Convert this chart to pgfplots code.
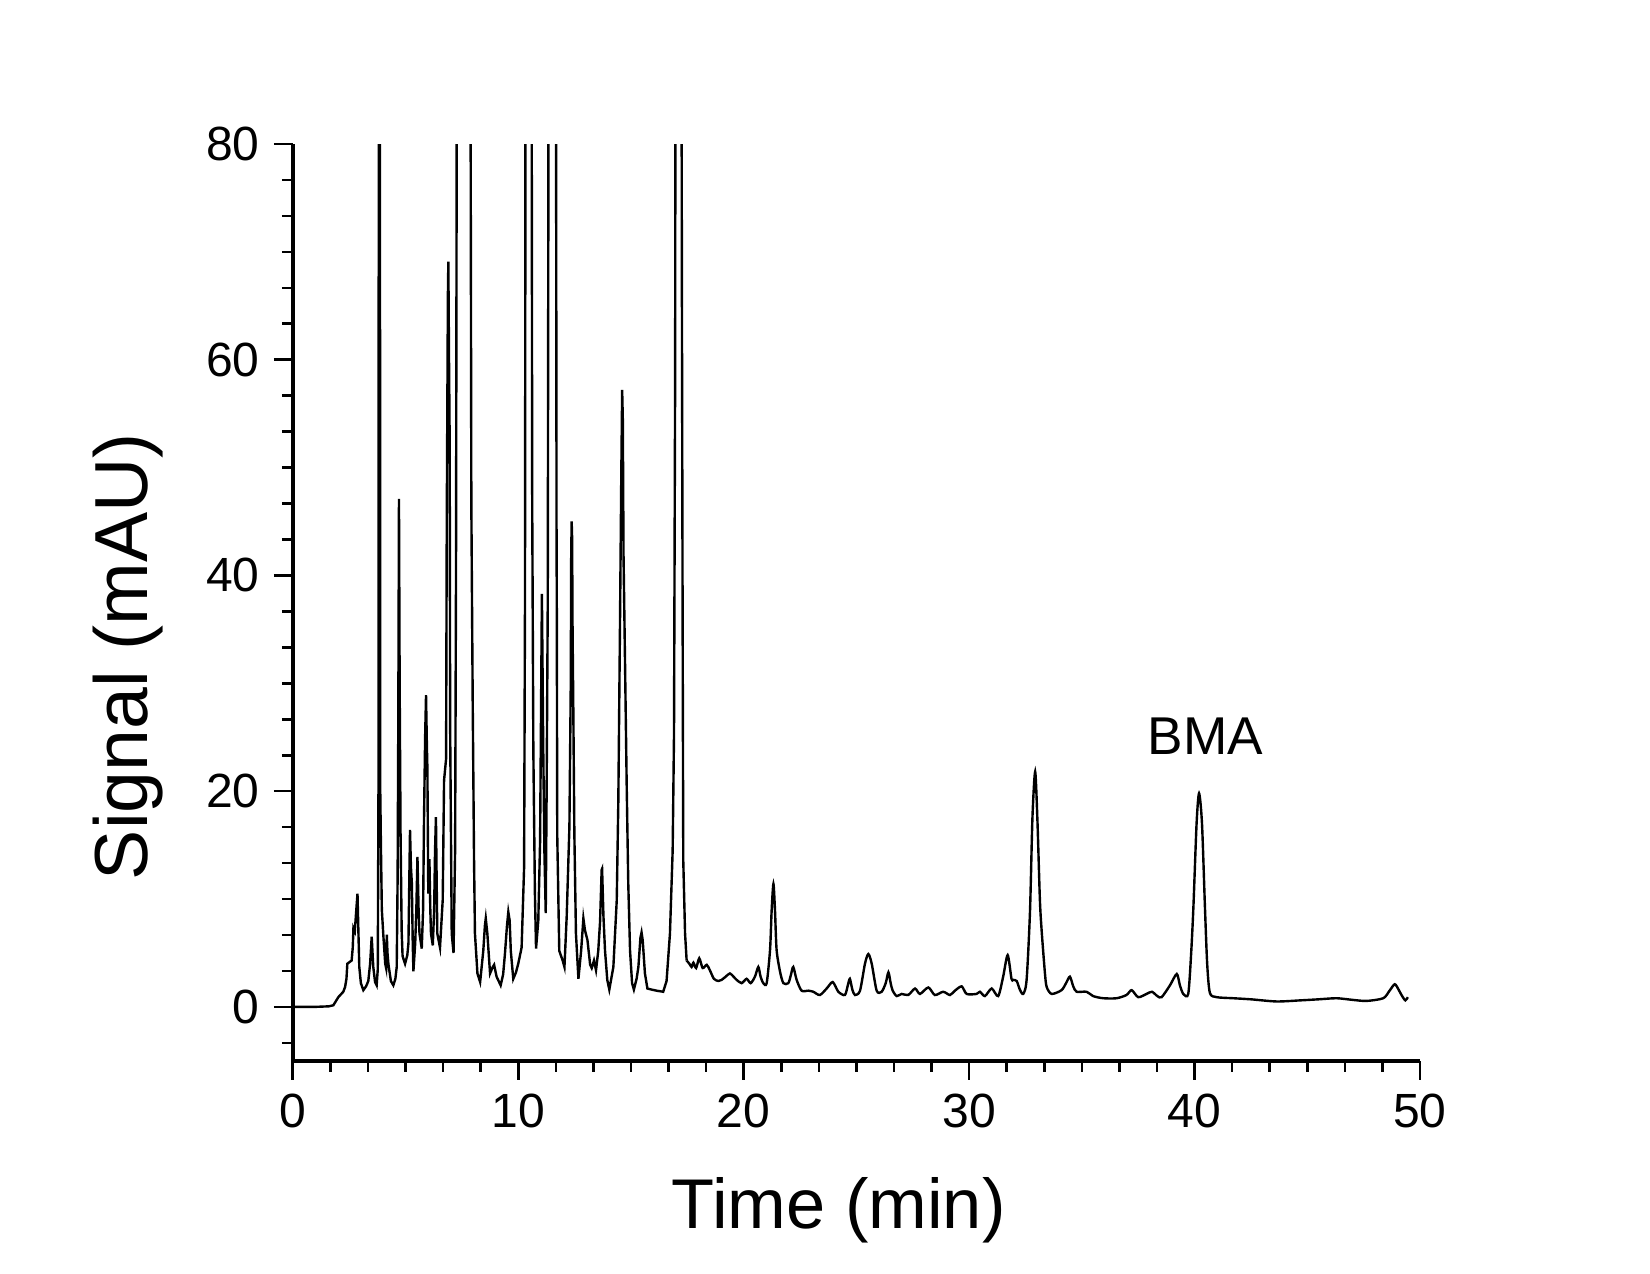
\documentclass[border=0pt]{standalone}
\usepackage{fontspec}
\setmainfont{Liberation Sans}
\usepackage{pgfplots}
\pgfplotsset{compat=1.18}
\begin{document}
\begin{tikzpicture}
\path[use as bounding box] (-73.2pt,-53.3pt) rectangle (339.3pt,265.2pt);
\begin{axis}[
  at={(0pt,0pt)}, anchor=south west,
  scale only axis, width=281.8pt, height=229.2pt,
  xmin=0, xmax=50, ymin=-5, ymax=80,
  axis x line*=bottom, axis y line*=left,
  axis line style={-, line width=1pt, black},
  xtick={0,10,20,30,40,50}, ytick={0,20,40,60,80},
  minor xtick={1.6667,3.3333,5,6.6667,8.3333,11.6667,13.3333,15,16.6667,18.3333,21.6667,23.3333,25,26.6667,28.3333,31.6667,33.3333,35,36.6667,38.3333,41.6667,43.3333,45,46.6667,48.3333},
  minor ytick={-3.3333,3.3333,6.6667,10,13.3333,16.6667,23.3333,26.6667,30,33.3333,36.6667,43.3333,46.6667,50,53.3333,56.6667,63.3333,66.6667,70,73.3333,76.6667},
  tick align=outside,
  major tick length=4.75pt, minor tick length=2.75pt,
  every tick/.style={line width=0.65pt, black},
  /pgf/number format/assume math mode=true,
  ticklabel style={font=\fontsize{12}{14}\selectfont},
  xlabel={Time (min)}, ylabel={Signal (mAU)},
  every axis x label/.style={at={(axis description cs:0.4843,-0.1828)}, anchor=base, font=\fontsize{17.6}{21}\selectfont},
  every axis y label/.style={at={(axis description cs:-0.129,0.4409)}, anchor=base, rotate=90, font=\fontsize{18.8}{22}\selectfont},
]
\addplot[black, line width=0.6pt, no markers, sharp plot] table {
t v
0 0
1.0 0.0
1.6 0.05
1.8 0.15
2.02 0.9
2.24 1.4
2.32 1.85
2.38 2.6
2.42 4.0
2.61 4.3
2.66 5.5
2.69 7.3
2.75 7.0
2.80 8.5
2.87 10.5
2.91 7.0
2.95 3.7
3.02 2.2
3.13 1.55
3.25 1.9
3.35 2.4
3.43 4.0
3.50 6.5
3.57 3.7
3.65 2.3
3.72 2.0
3.77 3.5
3.80 20
3.84 200
3.88 20
3.91 14.8
3.95 9
4.02 6.5
4.10 4.0
4.14 3.6
4.17 6.7
4.20 5.0
4.24 4.0
4.35 2.4
4.46 2.0
4.55 2.6
4.61 3.7
4.65 12
4.68 26.5
4.71 47.1
4.74 30
4.78 16
4.83 7
4.87 4.7
4.98 4.0
5.08 4.8
5.13 5.9
5.17 12
5.20 16.4
5.24 13
5.28 11.5
5.32 6
5.35 3.3
5.43 5.9
5.48 9
5.53 13.9
5.58 9
5.62 6.8
5.72 5.4
5.78 9
5.82 17.3
5.87 25
5.91 28.9
5.95 24
5.97 22.2
6.01 10.5
6.06 13.7
6.10 9
6.13 6.8
6.21 5.7
6.27 9
6.31 14.5
6.35 17.6
6.38 12
6.41 6.8
6.53 5.5
6.65 9.9
6.71 21
6.80 23
6.83 45.2
6.88 66
6.90 69.1
6.93 60
6.96 52.2
6.98 25.9
7.05 6.8
7.13 5.0
7.20 14.5
7.24 40
7.27 80
7.55 400
7.89 80
7.92 46.6
7.98 28.4
8.04 13.6
8.08 6.8
8.19 3.1
8.31 2.3
8.45 5.2
8.52 7.5
8.56 8.2
8.63 6.8
8.75 3.1
8.87 3.7
8.93 3.9
9.04 2.8
9.22 2.0
9.33 3.0
9.41 4.9
9.50 7.5
9.56 8.8
9.62 8.0
9.67 5.2
9.78 2.6
9.90 3.2
10.00 4.0
10.15 5.5
10.26 12.9
10.30 37.7
10.32 80
10.45 300
10.60 80
10.62 46.6
10.64 37.7
10.67 23.8
10.74 10.5
10.79 5.4
10.89 8.0
10.97 15.4
11.01 27
11.05 38.3
11.11 23.8
11.16 14.5
11.22 8.7
11.26 20.1
11.31 37.7
11.34 80
11.51 300
11.68 80
11.70 43.5
11.71 37.7
11.73 16.0
11.82 5.2
11.97 4.3
12.05 3.7
12.15 8.4
12.27 16.7
12.33 29.9
12.35 42
12.37 45.0
12.39 43.5
12.41 35
12.44 28.4
12.49 16.0
12.56 6.8
12.67 2.6
12.79 5.2
12.89 8.2
12.96 7.1
13.07 6.2
13.19 3.9
13.26 3.6
13.36 4.3
13.45 3.4
13.55 5.2
13.63 7.9
13.70 12.7
13.72 12.8
13.78 8.4
13.85 5.2
13.95 2.5
14.04 1.6
14.22 3.7
14.37 9.9
14.44 19.1
14.51 34.6
14.57 49
14.61 57.2
14.64 54.4
14.67 42
14.74 31.5
14.81 20.7
14.88 11.5
14.96 5.2
15.05 2.2
15.13 1.6
15.25 2.6
15.33 3.7
15.42 6.4
15.47 6.9
15.52 6.2
15.62 3.1
15.73 1.7
15.92 1.6
16.14 1.5
16.43 1.4
16.58 2.4
16.73 6.8
16.85 14.5
16.91 25.3
16.96 58.3
16.97 80
17.1 400
17.25 80
17.26 66.8
17.29 37.7
17.32 13.6
17.40 6.8
17.47 4.3
};
\addplot[black, line width=0.6pt, no markers, smooth, tension=0.45] table {
t v
17.47 4.3
17.59 4.0
17.69 3.7
17.77 4.1
17.89 3.6
18.03 4.5
18.18 3.6
18.36 3.9
18.50 3.4
18.68 2.6
18.88 2.4
19.02 2.5
19.20 2.8
19.39 3.1
19.55 2.8
19.69 2.5
19.91 2.2
20.13 2.6
20.31 2.2
20.50 2.8
20.65 3.7
20.75 2.8
20.87 2.2
21.02 2.2
21.17 5.3
21.24 8.9
21.32 11.4
21.39 8.9
21.46 5.3
21.61 3.3
21.76 2.2
21.98 2.2
22.10 3.0
22.20 3.7
22.35 2.5
22.57 1.5
22.87 1.5
23.09 1.4
23.38 1.1
23.68 1.7
23.95 2.3
24.20 1.4
24.49 1.1
24.62 2.0
24.71 2.6
24.82 1.6
24.94 1.1
25.16 1.5
25.38 4.0
25.53 4.9
25.68 4.0
25.90 1.5
26.12 1.4
26.30 2.2
26.42 3.2
26.52 2.2
26.61 1.5
26.79 1.0
27.01 1.2
27.30 1.1
27.60 1.7
27.82 1.2
28.19 1.8
28.48 1.1
28.85 1.4
29.15 1.1
29.37 1.5
29.67 1.9
29.89 1.2
30.33 1.2
30.48 1.4
30.70 1.0
31.00 1.7
31.29 1.0
31.51 2.8
31.71 4.8
31.88 2.6
31.96 2.5
32.11 2.4
32.25 1.6
32.40 1.2
32.55 2.5
32.70 8.8
32.81 17.6
32.93 21.8
33.03 17.3
33.14 9.9
33.22 7.0
33.36 3.2
33.44 1.85
33.66 1.2
34.10 1.55
34.30 2.2
34.47 2.8
34.62 1.9
34.77 1.4
35.21 1.4
35.50 1.0
35.95 0.8
36.54 0.8
36.98 1.1
37.21 1.55
37.50 0.9
37.87 1.2
38.11 1.4
38.35 1.0
38.54 0.9
38.91 2.0
39.21 3.05
39.35 2.0
39.50 1.2
39.72 1.2
39.85 5.0
39.95 9.3
40.09 17.0
40.20 19.8
40.33 17.0
40.46 9.3
40.56 4.0
40.68 1.3
40.98 0.9
41.72 0.8
42.5 0.7
43.64 0.5
44.67 0.6
45.5 0.7
46.3 0.8
47.0 0.65
47.63 0.55
48.37 0.8
48.65 1.5
48.88 2.1
49.05 1.6
49.18 1.1
49.35 0.6
49.46 0.9
};
\node[anchor=base, font=\fontsize{13.3}{15}\selectfont] at (axis cs:40.48,23.4) {BMA};
\end{axis}
\end{tikzpicture}
\end{document}
